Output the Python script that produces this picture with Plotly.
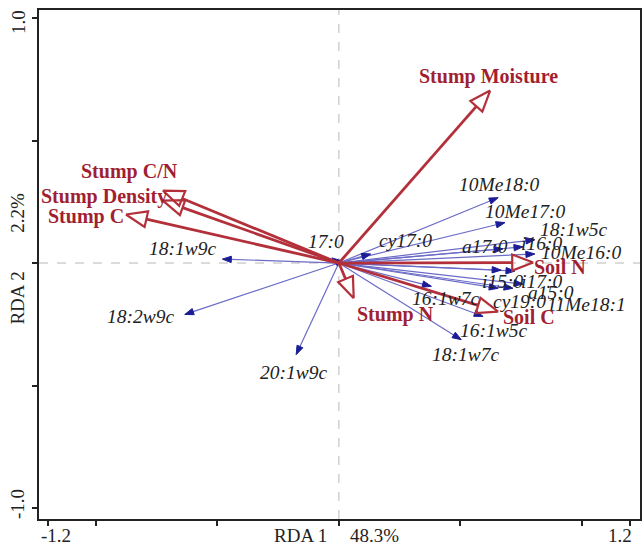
import numpy as np
import plotly.graph_objects as go

# Environmental variables (RDA biplot scores)
env_names = ["Stump Moisture", "Stump C/N", "Stump Density", "Stump C",
             "Stump N", "Soil N", "Soil C"]
env_x = [0.623, -0.725, -0.725, -0.877, 0.061, 0.800, 0.656]
env_y = [0.704, 0.296, 0.255, 0.198, -0.144, 0.002, -0.198]

# PLFA biomarkers (species scores)
spp_names = ["10Me18:0", "10Me17:0", "18:1w5c", "a17:0", "i16:0", "10Me16:0",
             "i15:0", "i17:0", "a15:0", "cy19:0", "11Me18:1", "16:1w7c",
             "16:1w5c", "18:1w7c", "17:0", "cy17:0", "18:1w9c", "18:2w9c",
             "20:1w9c"]
spp_x = [0.656, 0.684, 0.807, 0.676, 0.758, 0.807, 0.668, 0.725, 0.717, 0.656,
         0.758, 0.381, 0.594, 0.504, -0.029, 0.131, -0.480, -0.635, -0.176]
spp_y = [0.267, 0.165, 0.095, 0.058, 0.066, 0.037, -0.029, -0.033, -0.103,
         -0.103, -0.086, -0.095, -0.218, -0.313, 0.021, 0.037, 0.016, -0.210,
         -0.374]

# Axis tick labels and titles
x_tick_labels = ["-1.2", "1.2"]
y_tick_labels = ["1.0", "-1.0"]
x_title = ["RDA 1", "48.3%"]
y_title = ["RDA 2", "2.2%"]

# Label placement (pixel offsets of label centre from arrow tip: dx right, dy down)
env_offsets = {
    "Stump Moisture": (-2, -14), "Stump C/N": (-33, -19), "Stump Density": (-59, -4),
    "Stump C": (-40, 2), "Stump N": (42, 16), "Soil N": (27, 4), "Soil C": (31, 5),
}
spp_offsets = {
    "10Me18:0": (1, -13), "10Me17:0": (20, -11), "18:1w5c": (39, -10),
    "a17:0": (-18, -2), "i16:0": (19, -3), "10Me16:0": (46, -1),
    "i15:0": (1, 11), "i17:0": (27, 10), "a15:0": (38, 4), "cy19:0": (21, 13),
    "11Me18:1": (64, 20), "16:1w7c": (15, 12), "16:1w5c": (11, 14),
    "18:1w7c": (5, 15), "17:0": (-6, -16), "cy17:0": (35, -13),
    "18:1w9c": (-39, -11), "18:2w9c": (-44, 2), "20:1w9c": (-2, 18),
}

W, H = 644, 551
M = dict(l=39, r=2, t=10, b=32)
XR = [-1.235, 1.24]
YR = [-1.045, 1.033]
sx = (W - M["l"] - M["r"]) / (XR[1] - XR[0])
sy = (H - M["t"] - M["b"]) / (YR[1] - YR[0])

RED_LINE = "#b3303a"
RED_TEXT = "#a11f32"
BLUE_LINE = "#6b6bc8"
BLUE_HEAD = "#1c1c96"
FONT = "Liberation Serif"


def arrows(xs, ys, head_len, head_w):
    """Shafts (origin to head base) and triangular heads, built in pixel space."""
    lx, ly, hx, hy = [], [], [], []
    for x, y in zip(xs, ys):
        px, py = x * sx, y * sy
        d = np.hypot(px, py)
        ux, uy = px / d, py / d
        bx, by = px - head_len * ux, py - head_len * uy
        nx, ny = -uy, ux
        lx += [0, bx / sx, None]
        ly += [0, by / sy, None]
        hx += [x, (bx + head_w * nx) / sx, (bx - head_w * nx) / sx, x, None]
        hy += [y, (by + head_w * ny) / sy, (by - head_w * ny) / sy, y, None]
    return lx, ly, hx, hy


fig = go.Figure()

# species arrows
lx, ly, hx, hy = arrows(spp_x, spp_y, 9, 3.2)
fig.add_trace(go.Scatter(x=lx, y=ly, mode="lines",
                         line=dict(color=BLUE_LINE, width=1.2), hoverinfo="skip"))
fig.add_trace(go.Scatter(x=hx, y=hy, mode="lines", fill="toself",
                         fillcolor=BLUE_HEAD, line=dict(color=BLUE_HEAD, width=1),
                         hoverinfo="skip"))

# environmental arrows with open heads
lx, ly, hx, hy = arrows(env_x, env_y, 21, 8)
fig.add_trace(go.Scatter(x=lx, y=ly, mode="lines",
                         line=dict(color=RED_LINE, width=2.8), hoverinfo="skip"))
fig.add_trace(go.Scatter(x=hx, y=hy, mode="lines",
                         line=dict(color=RED_LINE, width=2.2), hoverinfo="skip"))

ann = []
for n, x, y in zip(spp_names, spp_x, spp_y):
    dx, dy = spp_offsets[n]
    ann.append(dict(x=x, y=y, xref="x", yref="y", text="<i>%s</i>" % n,
                    showarrow=False, xshift=dx, yshift=-dy,
                    font=dict(family=FONT, size=19.5, color="#222222"),
                    xanchor="center", yanchor="middle"))
for n, x, y in zip(env_names, env_x, env_y):
    dx, dy = env_offsets[n]
    ann.append(dict(x=x, y=y, xref="x", yref="y", text="<b>%s</b>" % n,
                    showarrow=False, xshift=dx, yshift=-dy,
                    font=dict(family=FONT, size=20, color=RED_TEXT),
                    xanchor="center", yanchor="middle"))

tick_font = dict(family=FONT, size=19, color="#222222")
# x-axis labels (only the extremes are labelled)
ann.append(dict(x=-1.2, y=0, xref="x", yref="paper", text=x_tick_labels[0],
                showarrow=False, xshift=8, yshift=-4, yanchor="top", font=tick_font))
ann.append(dict(x=1.2, y=0, xref="x", yref="paper", text=x_tick_labels[1],
                showarrow=False, xshift=-10, yshift=-4, yanchor="top", font=tick_font))
ann.append(dict(x=-0.16, y=0, xref="x", yref="paper", text=x_title[0],
                showarrow=False, yshift=-4, yanchor="top", font=tick_font))
ann.append(dict(x=0.145, y=0, xref="x", yref="paper", text=x_title[1],
                showarrow=False, yshift=-4, yanchor="top", font=tick_font))
# y-axis labels (rotated)
for txt, yv, ys in [(y_tick_labels[0], 1.0, -4), (y_tick_labels[1], -1.0, 4),
                    (y_title[0], -0.145, 0), (y_title[1], 0.205, 0)]:
    ann.append(dict(x=0, y=yv, xref="paper", yref="y", text=txt, showarrow=False,
                    xshift=-21, yshift=ys, textangle=-90, xanchor="center",
                    yanchor="middle", font=tick_font))

shapes = [
    dict(type="line", x0=0, x1=0, y0=YR[0], y1=YR[1], xref="x", yref="y",
         line=dict(color="#b8b8b8", width=1, dash="dash"), layer="below"),
    dict(type="line", x0=XR[0], x1=XR[1], y0=0, y1=0, xref="x", yref="y",
         line=dict(color="#b8b8b8", width=1, dash="dash"), layer="below"),
]

fig.update_layout(
    width=W, height=H, margin=M, showlegend=False,
    plot_bgcolor="white", paper_bgcolor="white",
    annotations=ann, shapes=shapes,
    xaxis=dict(range=XR, showgrid=False, zeroline=False, showline=True,
               linecolor="#222222", linewidth=2, mirror=True,
               ticks="outside", ticklen=5, tickwidth=1.5, tickcolor="#222222",
               tickvals=[-1.2, -1.0, -0.5, 0, 0.5, 1.0, 1.2], showticklabels=False),
    yaxis=dict(range=YR, showgrid=False, zeroline=False, showline=True,
               linecolor="#222222", linewidth=2, mirror=True,
               ticks="outside", ticklen=5, tickwidth=1.5, tickcolor="#222222",
               tickvals=[-1.0, -0.5, 0, 0.5, 1.0], showticklabels=False),
)

fig.write_html("out.html")
